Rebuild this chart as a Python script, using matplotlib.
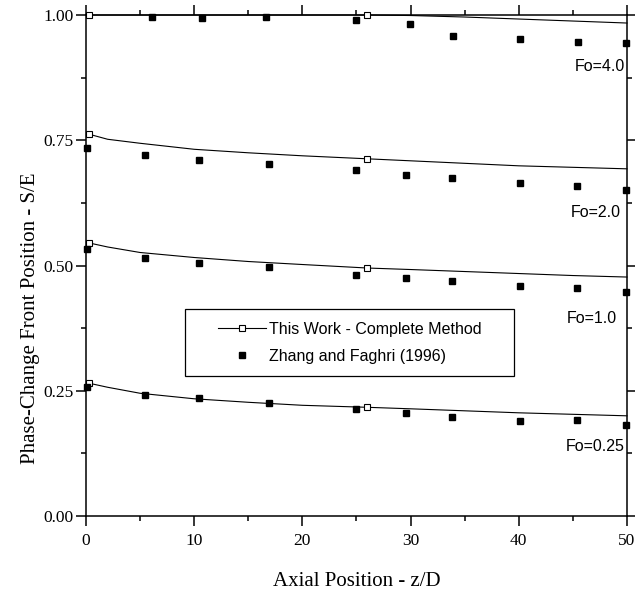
import matplotlib
matplotlib.use("Agg")
import matplotlib.pyplot as plt
from matplotlib.patches import Rectangle
from matplotlib.ticker import MultipleLocator

# This Work - Complete Method (curves)
z_line = [0.3, 2, 5, 10, 15, 20, 26, 30, 35, 40, 45, 50]
s_fo4_line = [1.0, 1.0, 1.0, 1.0, 1.0, 1.0, 1.0, 0.999, 0.996, 0.992, 0.988, 0.984]
s_fo2_line = [0.762, 0.752, 0.744, 0.732, 0.725, 0.719, 0.713, 0.709, 0.704, 0.699, 0.696, 0.693]
s_fo1_line = [0.545, 0.537, 0.526, 0.516, 0.508, 0.502, 0.495, 0.492, 0.488, 0.484, 0.480, 0.477]
s_fo025_line = [0.265, 0.257, 0.245, 0.234, 0.227, 0.221, 0.217, 0.214, 0.210, 0.206, 0.203, 0.200]

# Zhang and Faghri (1996)
z_fo4_pts = [6.1, 10.7, 16.6, 25.0, 29.9, 33.9, 40.1, 45.5, 49.9]
s_fo4_pts = [0.996, 0.994, 0.996, 0.990, 0.982, 0.958, 0.952, 0.946, 0.944]
z_pts = [0.1, 5.5, 10.4, 16.9, 25.0, 29.6, 33.8, 40.1, 45.4, 49.9]
s_fo2_pts = [0.735, 0.721, 0.711, 0.703, 0.691, 0.681, 0.675, 0.665, 0.659, 0.651]
s_fo1_pts = [0.533, 0.515, 0.505, 0.497, 0.481, 0.475, 0.469, 0.459, 0.455, 0.447]
s_fo025_pts = [0.257, 0.241, 0.236, 0.226, 0.214, 0.206, 0.198, 0.190, 0.192, 0.182]

fo_labels = ["Fo=4.0", "Fo=2.0", "Fo=1.0", "Fo=0.25"]
fo_label_x = [49.8, 49.4, 49.1, 49.8]
fo_label_y = [0.898, 0.605, 0.395, 0.138]

serif = "Liberation Serif"
sans = "Liberation Sans"

fig = plt.figure(figsize=(6.35, 5.96), dpi=100)
ax = fig.add_axes([0.1354, 0.1342, 0.8520, 0.8406])

lines = [s_fo4_line, s_fo2_line, s_fo1_line, s_fo025_line]
for i, s in enumerate(lines):
    ax.plot(z_line, s, color="black", lw=0.8, marker="s", markersize=5,
            markerfacecolor="white", markeredgecolor="black", markeredgewidth=0.8,
            markevery=[0, 6], clip_on=False, zorder=3,
            label="This Work - Complete Method" if i == 0 else None)

ax.plot(z_fo4_pts, s_fo4_pts, ls="none", marker="s", markersize=5, color="black",
        clip_on=False, zorder=4, label="Zhang and Faghri (1996)")
for s in [s_fo2_pts, s_fo1_pts, s_fo025_pts]:
    ax.plot(z_pts, s, ls="none", marker="s", markersize=5, color="black",
            clip_on=False, zorder=4)

for t, x, y in zip(fo_labels, fo_label_x, fo_label_y):
    ax.text(x, y, t, ha="right", va="center", fontsize=11.5, family=sans)

ax.set_xlim(0, 50)
ax.set_ylim(0, 1.0)
ax.xaxis.set_major_locator(MultipleLocator(10))
ax.xaxis.set_minor_locator(MultipleLocator(5))
ax.yaxis.set_major_locator(MultipleLocator(0.25))
ax.yaxis.set_minor_locator(MultipleLocator(0.125))
ax.yaxis.set_major_formatter(plt.FormatStrFormatter("%.2f"))
ax.tick_params(which="both", direction="out", top=True, right=True, width=1.1)
ax.tick_params(which="major", length=7)
ax.tick_params(which="minor", length=3.6)
ax.tick_params(axis="x", pad=5)
ax.tick_params(axis="y", pad=2)
for lab in ax.get_xticklabels() + ax.get_yticklabels():
    lab.set_family(serif)
    lab.set_fontsize(12.5)
for sp in ax.spines.values():
    sp.set_linewidth(1.1)

ax.set_xlabel("Axial Position - z/D", family=serif, fontsize=15, labelpad=17)
ax.set_ylabel("Phase-Change Front Position - S/E", family=serif, fontsize=15)
ax.yaxis.set_label_coords(-0.085, 0.395)

ax.add_patch(Rectangle((0.183, 0.279), 0.608, 0.134, transform=ax.transAxes,
                       fill=False, edgecolor="black", lw=0.9, zorder=5))
ax.legend(loc="center", bbox_to_anchor=(0.487, 0.346), frameon=False,
          prop={"family": sans, "size": 11.5}, handlelength=3, handletextpad=0.2,
          labelspacing=0.75, numpoints=1)

fig.savefig("out.png", dpi=100)
